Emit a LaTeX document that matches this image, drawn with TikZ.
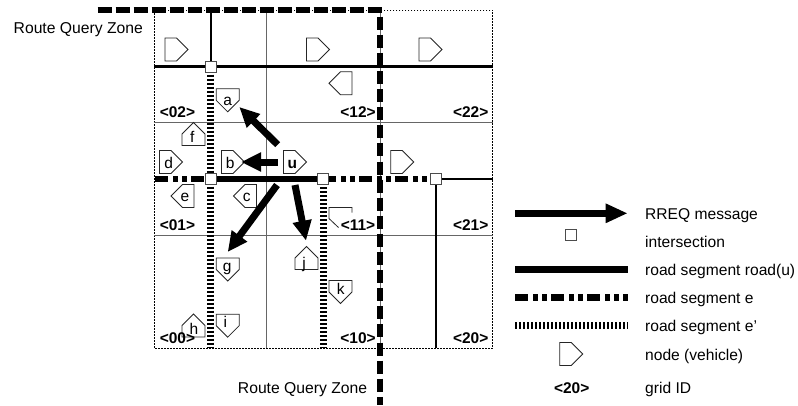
\documentclass[tikz,border=0pt]{standalone}
\usepackage{fontspec}
\setmainfont{Liberation Sans}
\usetikzlibrary{arrows.meta,shapes.geometric}
\tikzset{
  x=1pt,y=-1pt,
  gridline/.style={draw=black!60,line width=0.9pt},
  zoneborder/.style={draw=black,line width=0.8pt,dash pattern=on 1.5pt off 1.5pt},
  roadthin/.style={draw=black,line width=2.2pt},
  roadu/.style={draw=black,line width=6.5pt},
  roade/.style={draw=black,line width=6.5pt,dash pattern=on 13pt off 5pt on 4.5pt off 4.5pt on 4.5pt off 4.5pt},
  roadp/.style={draw=black,line width=6.5pt,dash pattern=on 2.3pt off 1.7pt},
  zoneh/.style={draw=black,line width=6pt,dash pattern=on 14pt off 4pt},
  zonev/.style={draw=black,line width=6pt,dash pattern=on 13pt off 5.1pt},
  rreq/.style={draw=black,line width=7pt,-{Triangle[length=20pt,width=18pt]}},
  cross/.style={draw=black!70,fill=white,line width=0.8pt,rectangle,minimum size=11pt,inner sep=0pt},
  vehbody/.style={draw=black!85,fill=white,line width=0.8pt},
  lab/.style={font=\fontsize{15.7pt}{17pt}\selectfont,inner sep=0pt},
  gid/.style={font=\fontsize{15.5pt}{17pt}\selectfont\bfseries,inner sep=0pt,anchor=base},
  legt/.style={font=\fontsize{15.6pt}{17pt}\selectfont,inner sep=0pt,anchor=base west},
  vehlab/.style={font=\fontsize{15.5pt}{17pt}\selectfont,inner sep=0pt,anchor=base},
}
\newcommand{\vehR}[2]{\draw[vehbody] (#1-11.5,#2-11.5) -- (#1,#2-11.5) -- (#1+11.5,#2) -- (#1,#2+11.5) -- (#1-11.5,#2+11.5) -- cycle;}
\newcommand{\vehL}[2]{\draw[vehbody] (#1+11.5,#2-11.5) -- (#1,#2-11.5) -- (#1-11.5,#2) -- (#1,#2+11.5) -- (#1+11.5,#2+11.5) -- cycle;}
\newcommand{\vehD}[2]{\draw[vehbody] (#1-11.5,#2-11.5) -- (#1+11.5,#2-11.5) -- (#1+11.5,#2) -- (#1,#2+11.5) -- (#1-11.5,#2) -- cycle;}
\newcommand{\vehU}[2]{\draw[vehbody] (#1-11.5,#2+11.5) -- (#1+11.5,#2+11.5) -- (#1+11.5,#2) -- (#1,#2-11.5) -- (#1-11.5,#2) -- cycle;}
\begin{document}
\begin{tikzpicture}
\useasboundingbox (0,0) rectangle (798,405);
\draw[zoneborder] (154,10) rectangle (492.7,348);
\draw[gridline] (154,122.7) -- (492.7,122.7);
\draw[gridline] (154,235.7) -- (492.7,235.7);
\draw[gridline] (266.7,10) -- (266.7,348);
\draw[gridline] (380,10) -- (380,348);
\coordinate (i1) at (210.7,66.5);
\coordinate (i2) at (210.7,179);
\coordinate (i3) at (323.3,179);
\coordinate (i4) at (436,179);
\draw[roadthin] (154,66.5) -- (492.7,66.5);
\draw[roadthin] (210.7,10) -- (i1);
\draw[roadthin] (i4) -- (492.7,179);
\draw[roadthin] (436,179) -- (436,348);
\draw[roadp] (i1) -- (210.7,348);
\draw[roadp] (i3) -- (323.3,348);
\draw[roade] (155,179) -- (i2);
\draw[roadu] (i2) -- (i3);
\draw[roade] (i3) -- (i4);
\draw[zoneh] (97.7,10.3) -- (382,10.3);
\draw[zonev] (380,16.7) -- (380,405);
\node[cross] (n1) at (i1) {};
\node[cross] (n2) at (i2) {};
\node[cross] (n3) at (i3) {};
\node[cross] (n4) at (i4) {};
\vehR{176.5}{49.5}
\vehR{318}{49.5}
\vehR{430.5}{49.5}
\vehL{340.5}{83.3}
\vehR{402.3}{162}
\vehD{227.7}{100.3}
\vehU{193.5}{134}
\vehR{171}{162}
\vehR{233}{162}
\vehR{295}{162}
\vehL{182.5}{196}
\vehL{245}{196}
\vehD{227.7}{269.5}
\vehD{227.7}{325.7}
\vehU{306.5}{258}
\vehD{340.5}{292}
\vehU{193.5}{325.5}
\draw[draw=black!85,line width=0.8pt] (352,212.7) -- (352,207.5) -- (329,207.5) -- (329,218.5) -- (338.5,227.5);
\node[vehlab] (a) at (227.7,105) {a};
\node[vehlab] (f) at (192.3,142.3) {f};
\node[vehlab] (d) at (168.7,168.3) {d};
\node[vehlab] (b) at (230.3,168.3) {b};
\node[vehlab] (u) at (292.3,168.3) {\textbf{u}};
\node[vehlab] (e) at (185,201.7) {e};
\node[vehlab] (c) at (246.7,201.7) {c};
\node[vehlab] (g) at (227.3,271.7) {g};
\node[vehlab] (i) at (225.3,327.7) {i};
\node[vehlab] (j) at (304,268) {j};
\node[vehlab] (k) at (340.7,294) {k};
\node[vehlab] (h) at (194,334) {h};
\coordinate (ua) at (277.7,144.7);
\coordinate (ub) at (277.7,162);
\coordinate (ug) at (277,185);
\coordinate (uj) at (295,185);
\coordinate (ta) at (239.3,107);
\coordinate (tb) at (241,162);
\coordinate (tg) at (227.7,252);
\coordinate (tj) at (306,240.7);
\draw[rreq] (ua) -- (ta);
\draw[rreq] (ub) -- (tb);
\draw[rreq] (ug) -- (tg);
\draw[rreq] (uj) -- (tj);
\node[gid] (g02) at (177.5,117.3) {<02>};
\node[gid] (g12) at (358,117.3) {<12>};
\node[gid] (g22) at (470.7,117.3) {<22>};
\node[gid] (g01) at (177.5,230.7) {<01>};
\node[gid] (g11) at (358,230.7) {<11>};
\node[gid] (g21) at (470.7,230.7) {<21>};
\node[gid] (g00) at (177.5,343.3) {<00>};
\node[gid] (g10) at (358,343.3) {<10>};
\node[gid] (g20) at (470.7,343.3) {<20>};
\node[lab,anchor=base west] (z1) at (13.5,33.3) {Route Query Zone};
\node[lab,anchor=base east] (z2) at (367.3,393.3) {Route Query Zone};
\coordinate (l1a) at (515,213.3); \coordinate (l1b) at (627.7,213.3);
\coordinate (l3a) at (515,269); \coordinate (l3b) at (627.7,269);
\coordinate (l4a) at (515,297.3); \coordinate (l4b) at (627.7,297.3);
\coordinate (l5a) at (515,325.7); \coordinate (l5b) at (627.7,325.7);
\draw[draw=black,line width=7pt,-{Triangle[length=22pt,width=18pt]}] (l1a) -- (l1b);
\node[cross] (ln) at (571.3,235.3) {};
\draw[roadu,line width=7pt] (l3a) -- (l3b);
\draw[roade] (l4a) -- (l4b);
\draw[roadp] (l5a) -- (l5b);
\vehR{571.3}{354}
\node[gid] (lg) at (571.7,393.3) {<20>};
\node[legt] (t1) at (645,219) {RREQ message};
\node[legt] (t2) at (645,247.3) {intersection};
\node[legt] (t3) at (645,275) {road segment road(u)};
\node[legt] (t4) at (645,303.3) {road segment e};
\node[legt] (t5) at (645,331.7) {road segment e'};
\node[legt] (t6) at (645,360) {node (vehicle)};
\node[legt] (t7) at (645,393.3) {grid ID};
\end{tikzpicture}
\end{document}
